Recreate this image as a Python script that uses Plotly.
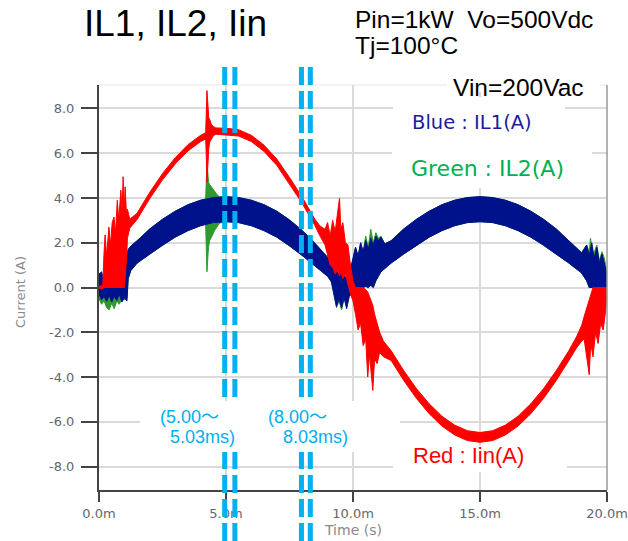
import plotly.graph_objects as go

# ---------------- data (time in ms, current in A) ----------------
il1_t = [0.00, 0.10, 0.20, 0.30, 0.40, 0.50, 0.60, 0.70, 0.80, 0.90, 1.00, 1.10, 1.15, 1.25,
         1.50, 2.00, 2.50, 3.00, 3.50, 4.00, 4.50, 5.00, 5.50, 6.00, 6.50, 7.00, 7.50, 8.00, 8.50, 9.00,
         9.15, 9.25, 9.35, 9.45, 9.55, 9.65, 9.75, 9.85, 9.92,
         10.00, 10.10, 10.20, 10.30, 10.40, 10.50, 10.60, 10.70, 10.80, 10.90, 11.00, 11.10, 11.25,
         11.50, 12.00, 12.50, 13.00, 13.50, 14.00, 14.50, 15.00, 15.50, 16.00, 16.50, 17.00, 17.50, 18.00, 18.50, 19.00,
         19.20, 19.30, 19.40, 19.50, 19.60, 19.70, 19.80, 19.90, 20.00]
il1_hi = [0.60, 0.70, 0.30, 0.20, 0.25, 0.30, 0.30, 0.35, 0.40, 0.50, 0.90, 1.40, 1.70, 1.85,
          2.09, 2.62, 3.05, 3.41, 3.70, 3.90, 4.02, 4.06, 4.02, 3.90, 3.70, 3.41, 3.02, 2.55, 1.98, 1.35,
          1.10, 0.80, 0.75, 0.60, 0.70, 0.50, 0.45, 0.35, 0.90,
          1.30, 1.80, 1.40, 2.00, 1.60, 2.10, 1.70, 2.20, 1.90, 2.30, 2.10, 2.25, 1.95,
          2.09, 2.62, 3.05, 3.41, 3.70, 3.90, 4.02, 4.06, 4.02, 3.90, 3.70, 3.41, 3.05, 2.62, 2.09, 1.55,
          1.90, 1.40, 2.00, 1.30, 1.80, 1.10, 1.50, 1.00, 0.60]
il1_lo = [-0.30, -0.55, -0.40, -0.62, -0.35, -0.65, -0.40, -0.58, -0.30, -0.65, -0.45, -0.60, 0.40, 0.75,
          1.09, 1.50, 1.89, 2.25, 2.54, 2.76, 2.90, 2.94, 2.90, 2.76, 2.54, 2.25, 1.86, 1.43, 0.98, 0.50,
          0.25, -0.30, -0.85, -0.50, -0.90, -0.45, -0.95, -0.40, -0.30,
          0.00, 0.00, 0.00, 0.00, 0.00, 0.05, 0.00, 0.10, 0.00, 0.30, 0.50, 0.70, 0.87,
          1.09, 1.50, 1.89, 2.25, 2.54, 2.76, 2.90, 2.94, 2.90, 2.76, 2.54, 2.25, 1.89, 1.50, 1.09, 0.65,
          0.30, 0.00, 0.00, 0.00, 0.00, 0.00, -0.30, -0.80, -0.50]

il2_t = [0.00, 0.10, 0.20, 0.30, 0.40, 0.50, 0.60, 0.70, 0.80, 0.90, 1.00, 1.10, 1.15, 1.25,
         1.50, 2.00, 2.50, 3.00, 3.50, 4.00, 4.20, 4.23, 4.25, 4.28, 4.31, 4.36, 4.45, 4.55, 4.65, 4.75,
         5.00, 5.50, 6.00, 6.50, 7.00, 7.50, 8.00, 8.50, 9.00,
         9.15, 9.25, 9.35, 9.45, 9.55, 9.65, 9.75, 9.85, 9.92,
         10.00, 10.10, 10.20, 10.30, 10.40, 10.50, 10.60, 10.70, 10.80, 10.90, 11.00, 11.10, 11.25,
         11.50, 12.00, 12.50, 13.00, 13.50, 14.00, 14.50, 15.00, 15.50, 16.00, 16.50, 17.00, 17.50, 18.00, 18.50, 19.00,
         19.20, 19.30, 19.35, 19.45, 19.60, 19.70, 19.80, 19.90, 20.00]
il2_hi = [0.30, 0.50, 0.30, 0.20, 0.30, 0.30, 0.30, 0.30, 0.40, 0.50, 0.90, 1.40, 1.70, 1.85,
          2.09, 2.62, 3.05, 3.41, 3.70, 3.90, 3.96, 5.00, 5.45, 5.20, 4.70, 4.60, 4.45, 4.30, 4.15, 4.05,
          4.06, 4.02, 3.90, 3.70, 3.41, 3.02, 2.55, 1.98, 1.35,
          1.10, 0.80, 0.75, 0.60, 0.70, 0.50, 0.45, 0.35, 0.90,
          1.30, 1.80, 1.40, 2.00, 1.60, 2.30, 1.80, 2.60, 2.00, 2.45, 2.20, 2.30, 1.95,
          2.09, 2.62, 3.05, 3.41, 3.70, 3.90, 4.02, 4.06, 4.02, 3.90, 3.70, 3.41, 3.05, 2.62, 2.09, 1.55,
          1.90, 1.60, 2.20, 1.40, 1.90, 1.20, 1.60, 1.30, 0.60]
il2_lo = [-0.50, -0.75, -0.60, -0.90, -1.00, -0.70, -0.95, -0.60, -0.75, -0.50, -0.55, -0.50, 0.40, 0.75,
          1.09, 1.50, 1.89, 2.25, 2.54, 2.76, 2.84, 1.50, 0.70, 1.20, 1.80, 2.10, 2.30, 2.55, 2.72, 2.88,
          2.94, 2.90, 2.76, 2.54, 2.25, 1.86, 1.43, 0.98, 0.50,
          0.25, -0.40, -0.90, -0.60, -1.00, -0.50, -0.85, -0.40, -0.30,
          0.00, 0.00, 0.00, 0.00, 0.00, 0.05, 0.00, 0.10, 0.00, 0.30, 0.50, 0.70, 0.87,
          1.09, 1.50, 1.89, 2.25, 2.54, 2.76, 2.90, 2.94, 2.90, 2.76, 2.54, 2.25, 1.89, 1.50, 1.09, 0.65,
          0.30, 0.00, 0.00, 0.00, 0.00, 0.00, -0.30, -0.70, -0.50]

iin_t = [0.00, 0.15, 0.20, 0.24, 0.30, 0.39, 0.45, 0.52, 0.59, 0.65, 0.72, 0.78, 0.86, 0.91, 0.95, 1.00,
         1.03, 1.08, 1.12, 1.21, 1.50, 2.00, 2.50, 3.00, 3.50, 4.00, 4.20, 4.22, 4.25, 4.28, 4.32, 4.36,
         4.42, 4.50, 4.60, 5.00, 5.50, 6.00, 6.50, 7.00, 7.50, 8.00, 8.50, 8.70, 8.90, 9.00, 9.10,
         9.20, 9.30, 9.40, 9.47, 9.52, 9.60, 9.70, 9.80, 9.90, 10.00,
         10.10, 10.20, 10.30, 10.40, 10.50, 10.58, 10.65, 10.78, 10.85, 10.95, 11.05, 11.20,
         11.50, 12.00, 12.50, 13.00, 13.50, 14.00, 14.50, 15.00, 15.50, 16.00, 16.50, 17.00, 17.50, 18.00, 18.50,
         18.80, 19.00, 19.10, 19.20, 19.30, 19.36, 19.45, 19.55, 19.65, 19.75, 19.85, 19.95, 20.00]
iin_hi = [0.05, 0.10, 1.60, 2.35, 1.40, 2.70, 1.90, 2.90, 3.15, 2.40, 3.90, 3.00, 4.35, 3.40, 4.95, 3.50,
          4.50, 3.30, 3.50, 3.05, 3.32, 4.26, 5.09, 5.80, 6.38, 6.80, 6.92, 7.50, 8.80, 8.30, 7.60, 7.50,
          7.30, 7.20, 7.13, 7.12, 7.05, 6.80, 6.36, 5.74, 4.92, 4.04, 3.05, 2.75, 2.60, 2.90, 2.30,
          3.00, 2.50, 3.40, 4.00, 2.60, 2.90, 2.00, 1.90, 1.00, 0.30,
          0.00, 0.00, 0.00, 0.00, -0.10, -0.20, -0.40, -0.80, -1.20, -1.60, -2.00, -2.40,
          -2.82, -3.72, -4.52, -5.20, -5.75, -6.15, -6.40, -6.48, -6.40, -6.15, -5.75, -5.20, -4.52, -3.72, -2.82,
          -2.20, -1.70, -1.30, -0.90, -0.50, -0.30, 0.00, 0.00, 0.00, 0.00, 0.00, 0.00, 0.00]
iin_lo = [-0.05, -0.05, 0.00, 0.00, 0.00, 0.00, 0.00, 0.00, 0.00, 0.00, 0.00, 0.00, 0.00, 0.00, 0.00, 0.00,
          0.30, 1.20, 2.20, 2.65, 3.04, 3.98, 4.81, 5.52, 6.10, 6.52, 6.64, 6.00, 4.70, 5.20, 6.20, 6.50,
          6.65, 6.78, 6.85, 6.83, 6.77, 6.52, 6.08, 5.46, 4.64, 3.76, 2.77, 2.30, 1.90, 1.50, 1.00,
          0.90, 0.60, 0.80, 0.50, 0.70, 0.40, 0.60, 0.20, -0.30, -0.60,
          -1.20, -1.90, -1.60, -2.60, -2.30, -4.00, -3.00, -4.60, -3.20, -3.40, -2.90, -3.10,
          -3.26, -4.16, -4.96, -5.64, -6.19, -6.59, -6.84, -6.92, -6.84, -6.59, -6.19, -5.64, -4.96, -4.16, -3.26,
          -2.70, -2.40, -2.30, -3.00, -3.90, -2.50, -3.10, -2.00, -2.50, -1.60, -1.90, -1.00, -0.30]

x_tickvals = [0, 5, 10, 15, 20]
x_ticktext = ["0.0m", "5.0m", "10.0m", "15.0m", "20.0m"]
y_tickvals = [-8, -6, -4, -2, 0, 2, 4, 6, 8]
y_ticktext = ["-8.0", "-6.0", "-4.0", "-2.0", "0.0", "2.0", "4.0", "6.0", "8.0"]
window_times = [4.95, 5.35, 7.97, 8.32]   # dashed marker lines (ms)
x_range = [0, 20]
y_range = [-9.05, 9.05]

# ---------------- layout geometry ----------------
W, H = 628, 541
ML, MR, MT, MB = 99, 21, 85, 51
PW, PH = W - ML - MR, H - MT - MB


def px_x(px):
    return (px - ML) / PW


def px_y(py):
    return (H - MB - py) / PH


def band(t, hi, lo, color, name):
    return go.Scatter(x=t + t[::-1], y=hi + lo[::-1], fill="toself", fillcolor=color,
                      line=dict(color=color, width=1), mode="lines", name=name,
                      hoverinfo="skip", showlegend=False)


BLUE = "#00118C"
GREEN = "#2E9A2E"
RED = "#FF0000"
CYAN = "#00B0F0"

fig = go.Figure()
fig.add_trace(band(il2_t, il2_hi, il2_lo, GREEN, "IL2"))
fig.add_trace(band(il1_t, il1_hi, il1_lo, BLUE, "IL1"))
fig.add_trace(band(iin_t, iin_hi, iin_lo, RED, "Iin"))

shapes = []
shapes.append(dict(type="line", xref="paper", yref="paper", x0=0, x1=1, y0=1, y1=1,
                   line=dict(color="#e6e6e6", width=1), layer="above"))
shapes.append(dict(type="line", xref="paper", yref="paper", x0=1, x1=1, y0=0, y1=1,
                   line=dict(color="#999999", width=1.5), layer="above"))
for tm in window_times:
    xp = (tm - x_range[0]) / (x_range[1] - x_range[0])
    shapes.append(dict(type="line", xref="paper", yref="paper", x0=xp, x1=xp,
                       y0=px_y(541), y1=px_y(67),
                       line=dict(color=CYAN, width=5, dash="18px,6px"), layer="above"))
for (x0, x1, y0, y1) in [(447, 600, 72, 92), (393, 565, 97, 140), (392, 592, 140, 188),
                         (393, 567, 446, 472), (140, 400, 401, 452)]:
    shapes.append(dict(type="rect", xref="paper", yref="paper", x0=px_x(x0), x1=px_x(x1),
                       y0=px_y(y1), y1=px_y(y0), fillcolor="white", line=dict(width=0),
                       layer="above"))

ann = []
SANS = "Liberation Sans, Noto Sans CJK JP, sans-serif"


def add_text(text, x, y, size, color, family=SANS, xanchor="left", angle=0):
    ann.append(dict(text=text, x=px_x(x), y=px_y(y), xref="paper", yref="paper",
                    xanchor=xanchor, yanchor="middle", showarrow=False, textangle=angle,
                    font=dict(size=size, color=color, family=family)))


add_text("IL1, IL2, Iin", 82, 23, 37, "#000000")
add_text("Pin=1kW\u00a0\u00a0Vo=500Vdc", 353, 19, 24.5, "#000000")
add_text("Tj=100°C", 353, 45, 24.5, "#000000")
add_text("Vin=200Vac", 451, 87, 24.5, "#000000")
add_text("Blue : IL1(A)", 410, 123, 19.5, "#1c1ca0", "DejaVu Sans")
add_text("Green : IL2(A)", 409, 168, 22, "#00B050", "DejaVu Sans")
add_text("Red : Iin(A)", 411, 455, 22, RED)
add_text("(5.00～", 158, 417, 18, CYAN)
add_text("5.03ms)", 168, 437, 18, CYAN)
add_text("(8.00～", 266, 417, 18, CYAN)
add_text("8.03ms)", 281, 437, 18, CYAN)
add_text("Time (s)", 353, 530, 14, "#8a8a8a", "DejaVu Sans", xanchor="center")
add_text("Current (A)", 20, 292, 13, "#8a8a8a", "DejaVu Sans", xanchor="center", angle=-90)

fig.update_layout(
    width=W, height=H, autosize=False,
    margin=dict(l=ML, r=MR, t=MT, b=MB, pad=0, autoexpand=False),
    paper_bgcolor="white", plot_bgcolor="white",
    showlegend=False,
    shapes=shapes, annotations=ann,
    font=dict(family="DejaVu Sans", color="#666666"),
    xaxis=dict(range=x_range, tickvals=x_tickvals, ticktext=x_ticktext,
               showgrid=True, gridcolor="#dadada", gridwidth=2, zeroline=False,
               showline=True, linecolor="#444444", linewidth=2,
               ticks="outside", ticklen=10, tickwidth=2, tickcolor="#444444",
               tickfont=dict(family="DejaVu Sans", size=13, color="#666666"),
               automargin=False, fixedrange=True),
    yaxis=dict(range=y_range, tickvals=y_tickvals, ticktext=y_ticktext,
               showgrid=True, gridcolor="#dadada", gridwidth=2, zeroline=False,
               showline=True, linecolor="#444444", linewidth=2,
               ticks="outside", ticklen=16, tickwidth=1.5, tickcolor="#444444",
               ticklabelstandoff=4,
               tickfont=dict(family="DejaVu Sans", size=13, color="#666666"),
               automargin=False, fixedrange=True),
)

fig.write_html("out.html", config={"displayModeBar": False},
               post_script="document.body.style.margin='0';document.body.style.overflow='hidden';")
